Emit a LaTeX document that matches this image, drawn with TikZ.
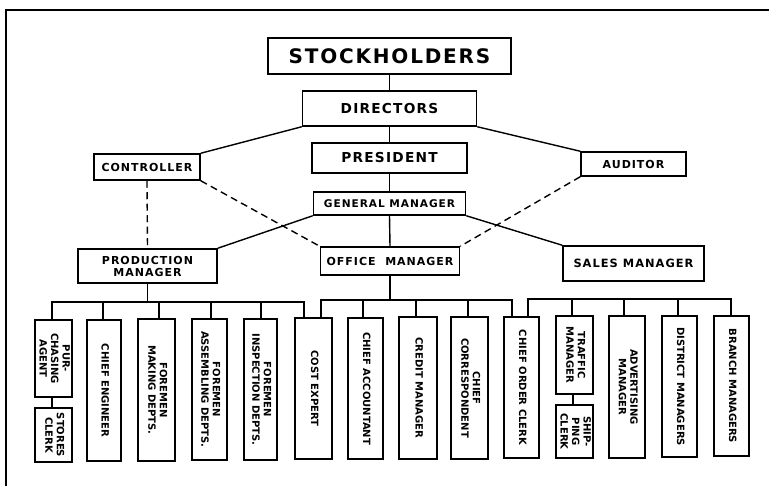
\documentclass[tikz,border=0pt]{standalone}
\usepackage{fontspec}
\newfontfamily\hdfont{DejaVu Sans}[LetterSpace=9]
\newfontfamily\lofont{DejaVu Sans}
\newcommand\vtxt[1]{\rotatebox{-90}{\begin{tabular}{@{}c@{}}#1\end{tabular}}}
\begin{document}
\begin{tikzpicture}[x=1pt,y=-1pt,
  line width=1.4pt,
  box/.style={draw, line width=1.5pt, inner sep=0pt, align=center, fill=white},
  big/.style={box, font=\hdfont\bfseries\fontsize{20}{23}\selectfont},
  mid/.style={box, font=\hdfont\bfseries\fontsize{13.7}{16}\selectfont},
  sml/.style={box, font=\hdfont\bfseries\fontsize{11}{13}\selectfont},
  lo/.style={box, font=\lofont\bfseries\fontsize{10}{11.5}\selectfont},
  dsh/.style={dashed, dash pattern=on 7pt off 4.5pt}]
\useasboundingbox (0,0) rectangle (769,486);
\fill[white] (0,0) rectangle (769,486);
% frame
\coordinate (fbl) at (6,486);
\coordinate (ftl) at (6,10);
\coordinate (ftr) at (769,10);
\draw[line width=1.3pt] (fbl) -- (ftl) -- (ftr);

% top chain
\node[big, minimum width=243pt, minimum height=36pt] (stock) at (389.5,56) {STOCKHOLDERS};
\node[mid, minimum width=174pt, minimum height=35pt] (dir) at (389.5,108.5) {DIRECTORS};
\node[mid, minimum width=155pt, minimum height=30pt] (pres) at (389.5,158) {PRESIDENT};
\node[sml, font=\hdfont\bfseries\fontsize{10.6}{12}\selectfont, minimum width=152pt, minimum height=23pt] (gm) at (389.5,203.5) {GENERAL MANAGER};
\node[sml, minimum width=106pt, minimum height=26pt] (ctrl) at (147,167) {CONTROLLER};
\node[sml, minimum width=105pt, minimum height=24pt] (aud) at (633.5,164) {AUDITOR};
\node[sml, minimum width=139pt, minimum height=34pt] (pm) at (147.5,266) {PRODUCTION\\[-1pt]MANAGER};
\node[sml, minimum width=139pt, minimum height=28pt] (om) at (390,261) {OFFICE\ \ MANAGER};
\node[sml, font=\hdfont\bfseries\fontsize{11.4}{13}\selectfont, minimum width=141pt, minimum height=35pt] (sm) at (633.5,263.5) {SALES MANAGER};

\draw (stock.south) -- (dir.north);
\draw (dir.south) -- (pres.north);
\draw (pres.south) -- (gm.north);
\draw (gm.south) -- (om.north);
\draw (dir.south west) -- (ctrl.north east);
\draw (dir.south east) -- (aud.north west);
\draw (gm.south west) -- (pm.north east);
\draw (gm.south east) -- (sm.north west);
\draw[dsh] (ctrl.south) -- (pm.north);
\draw[dsh] (ctrl.south east) -- (om.north west);
\draw[dsh] (aud.south west) -- (om.north east);

% lower boxes
\node[lo, minimum width=37pt, minimum height=77pt] (pa) at (53.5,358.5) {\vtxt{PUR-\\CHASING\\AGENT}};
\node[lo, minimum width=37pt, minimum height=54pt] (sc) at (53.5,435) {\vtxt{STORES\\CLERK}};
\node[lo, minimum width=34pt, minimum height=141pt] (ce) at (104,390.5) {\vtxt{CHIEF ENGINEER}};
\node[lo, minimum width=37pt, minimum height=142pt] (fm) at (156.5,390) {\vtxt{FOREMEN\\MAKING DEPTS.}};
\node[lo, minimum width=35pt, minimum height=141pt] (fa) at (209.5,389.5) {\vtxt{FOREMEN\\ASSEMBLING DEPTS.}};
\node[lo, minimum width=33pt, minimum height=141pt] (fi) at (260.5,389.5) {\vtxt{FOREMEN\\INSPECTION DEPTS.}};
\node[lo, minimum width=37pt, minimum height=141pt] (cx) at (313.5,388.5) {\vtxt{COST EXPERT}};
\node[lo, minimum width=35pt, minimum height=141pt] (ca) at (365.5,388.5) {\vtxt{CHIEF ACCOUNTANT}};
\node[lo, minimum width=38pt, minimum height=142pt] (cm) at (418,388) {\vtxt{CREDIT MANAGER}};
\node[lo, minimum width=37pt, minimum height=142pt] (cc) at (469.5,388) {\vtxt{CHIEF\\CORRESPONDENT}};
\node[lo, minimum width=35pt, minimum height=141pt] (co) at (521.5,387.5) {\vtxt{CHIEF ORDER CLERK}};
\node[lo, minimum width=37pt, minimum height=78pt] (tm) at (574.5,355) {\vtxt{TRAFFIC\\MANAGER}};
\node[lo, minimum width=37pt, minimum height=53pt] (sh) at (574.5,431.5) {\vtxt{SHIP-\\PING\\CLERK}};
\node[lo, minimum width=36pt, minimum height=142pt] (am) at (627,387) {\vtxt{ADVERTISING\\MANAGER}};
\node[lo, minimum width=35pt, minimum height=141pt] (dm) at (679.5,386.5) {\vtxt{DISTRICT MANAGERS}};
\node[lo, minimum width=35pt, minimum height=140pt] (bm) at (731.5,386) {\vtxt{BRANCH MANAGERS}};

\draw ([xshift=-1.5pt]pa.south) -- ([xshift=-1.5pt]sc.north);
\draw ([xshift=-1.5pt]tm.south) -- ([xshift=-1.5pt]sh.north);

% buses
\coordinate (bp) at (0,302);
\coordinate (bo) at (0,300);
\coordinate (bs) at (0,299);
\draw (pm.south) -- (pm.south |- bp);
\foreach \n/\s in {pa/-1.5, ce/-1, fm/2.5, fa/1.5, fi/0.5, cx/-9.5}
  \draw (pm.south |- bp) -| ([xshift=\s pt]\n.north);
\draw (om.south) -- (om.south |- bo);
\foreach \n/\s in {cx/7.5, ca/-2.5, cm/-2, cc/-1.5, co/-9.5}
  \draw (om.south |- bo) -| ([xshift=\s pt]\n.north);
\draw ([xshift=6.5pt]co.north) |- ([xshift=-0.5pt]bm.north |- bs) -- ([xshift=-0.5pt]bm.north);
\foreach \n/\s in {tm/-2.5, am/-3, dm/-1.5}
  \draw ([xshift=\s pt]\n.north) -- ([xshift=\s pt]\n.north |- bs);
\end{tikzpicture}
\end{document}
